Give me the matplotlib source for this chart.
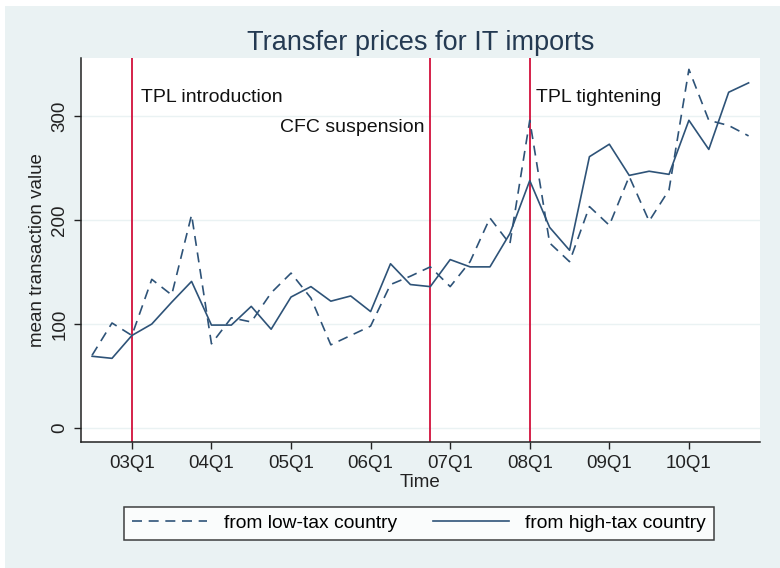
import matplotlib.pyplot as plt
from matplotlib.patches import Rectangle

plt.rcParams['font.family'] = ['Liberation Sans', 'DejaVu Sans']

# Данные: кварталы 2002Q3 - 2010Q4 (0 = 2003Q1)
quarters = list(range(-2, 32))
low_tax = [70, 101, 89, 143, 128, 205, 81, 106, 102, 130, 149, 125, 80, 89, 98, 138, 146,
           155, 136, 160, 202, 177, 296, 178, 160, 213, 195, 242, 199, 229, 345, 296, 291, 281]
high_tax = [69, 67, 89, 100, 121, 141, 99, 99, 117, 95, 126, 136, 122, 127, 112, 158, 138,
            136, 162, 155, 155, 187, 238, 193, 171, 261, 273, 243, 247, 244, 296, 268, 323, 332]

tick_pos = [0, 4, 8, 12, 16, 20, 24, 28]
tick_labels = ['03Q1', '04Q1', '05Q1', '06Q1', '07Q1', '08Q1', '09Q1', '10Q1']

events = [0, 15, 20]
event_labels = ['TPL introduction', 'CFC suspension', 'TPL tightening']

bg = '#eaf2f3'
line_col = '#2e5378'
red = '#d2103c'
fs = 13.5

fig = plt.figure(figsize=(7.8, 5.68), dpi=100, facecolor='white')
fig.patches.append(Rectangle((0.006, 0.0), 0.994, 0.99, transform=fig.transFigure,
                             facecolor=bg, edgecolor='none', zorder=-10))
ax = fig.add_axes([0.1038, 0.2218, 0.8702, 0.6762])
ax.set_facecolor('white')

# Сетка
for v in [0, 100, 200, 300]:
    ax.axhline(v, color=bg, lw=1.0, zorder=0)

# Вертикальные линии событий
for e in events:
    ax.axvline(e, color=red, lw=1.3, zorder=1)

ax.plot(quarters, low_tax, color=line_col, lw=1.2, linestyle=(0, (6, 4)), zorder=3,
        label='from low-tax country')
ax.plot(quarters, high_tax, color=line_col, lw=1.2, zorder=3, label='from high-tax country')

ax.text(events[0] + 0.45, 318, event_labels[0], fontsize=14, va='center', ha='left', color='#111111')
ax.text(events[1] - 0.3, 289, event_labels[1], fontsize=14, va='center', ha='right', color='#111111')
ax.text(events[2] + 0.3, 318, event_labels[2], fontsize=14, va='center', ha='left', color='#111111')

ax.set_xlim(-2.56, 31.56)
ax.set_ylim(-13.5, 356)
ax.set_xticks(tick_pos)
ax.set_xticklabels(tick_labels)
ax.set_yticks([0, 100, 200, 300])
ax.set_yticklabels(['0', '100', '200', '300'], rotation=90, va='center')
ax.tick_params(axis='both', direction='out', length=5, width=1, labelsize=fs,
               colors='#222222', pad=4)

for s in ['top', 'right']:
    ax.spines[s].set_visible(False)
for s in ['left', 'bottom']:
    ax.spines[s].set_color('#222222')
    ax.spines[s].set_linewidth(1.1)

ax.set_xlabel('Time', fontsize=fs, labelpad=2, color='#222222')
ax.set_ylabel('mean transaction value', fontsize=fs, labelpad=4, color='#222222')
ax.set_title('Transfer prices for IT imports', fontsize=19.5, color='#243a52', pad=6)

leg = fig.legend(loc='center', bbox_to_anchor=(0.537, 0.079), ncol=2, fontsize=13.9,
                 frameon=True, fancybox=False, edgecolor='#111111', facecolor='white',
                 handlelength=3.9, handletextpad=0.85, columnspacing=1.9,
                 borderpad=0.4, borderaxespad=0)
leg.get_frame().set_linewidth(1.1)

fig.savefig('out.png', dpi=100, facecolor=fig.get_facecolor())
